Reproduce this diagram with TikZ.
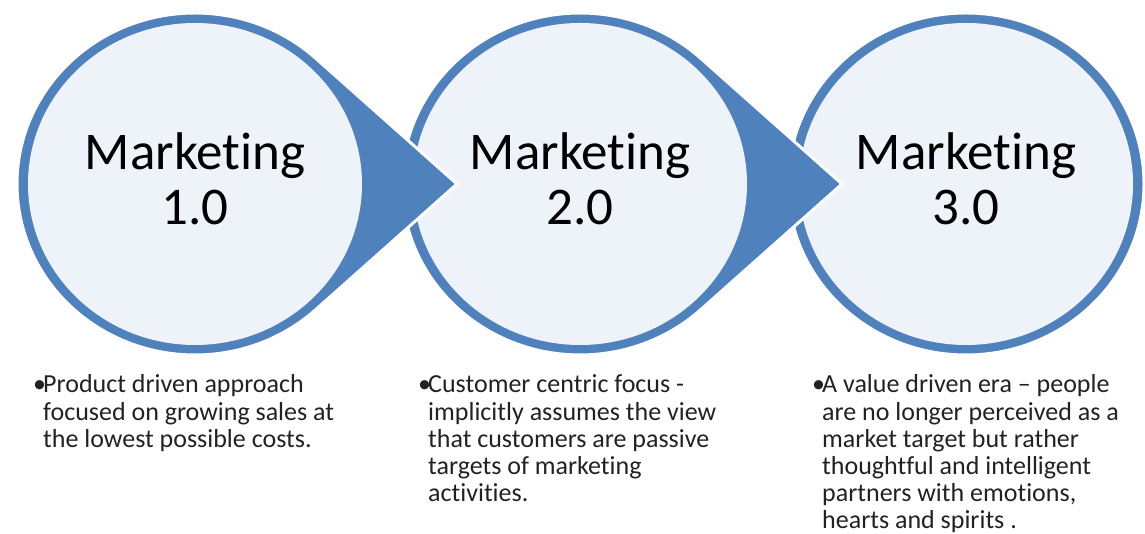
\documentclass[tikz,border=0pt]{standalone}
\usepackage{fontspec}
\setmainfont{Carlito}[Ligatures={NoCommon,NoContextual,NoRequired},Contextuals=NoAlternate]
\usetikzlibrary{calc}
\definecolor{ringblue}{HTML}{4F81BD}
\definecolor{innerfill}{HTML}{EEF3FA}
\definecolor{bodytext}{HTML}{222222}
\newcommand{\bultext}[1]{\makebox[10pt][l]{\textbullet}\parbox[t]{330pt}{#1}}
\begin{document}
\begin{tikzpicture}[x=1pt,y=1pt]
\useasboundingbox (0,0) rectangle (1145,534);
\tikzset{
 ringshape/.style={fill=ringblue, draw=white, line width=3pt, line join=miter},
 innershape/.style={fill=innerfill},
 titletext/.style={font=\fontsize{53}{55}\selectfont, text=black, inner sep=0pt, anchor=base},
 bodynode/.style={font=\fontsize{26}{27.2}\selectfont, text=bodytext, inner sep=0pt, anchor=base west},
}
\coordinate (c1) at (195,350);
\coordinate (c2) at (580,350);
\coordinate (c3) at (966,350);
\coordinate (tip1) at (457,350);
\coordinate (tip2) at (842,350);
% circle 3
\path[ringshape] (c3) ellipse [x radius=178, y radius=171];
\path[innershape] (c3) ellipse [x radius=167, y radius=161];
% circle 2 with arrow
\path[ringshape] ($(c2)+(47.5:178pt and 171pt)$) arc[start angle=47.5, end angle=312.5, x radius=178, y radius=171] -- (tip2) -- cycle;
\path[innershape] (c2) ellipse [x radius=167, y radius=161];
% circle 1 with arrow
\path[ringshape] ($(c1)+(47.5:178pt and 171pt)$) arc[start angle=47.5, end angle=312.5, x radius=178, y radius=171] -- (tip1) -- cycle;
\path[innershape] (c1) ellipse [x radius=167, y radius=161];
% titles
\node[titletext] (t1a) at (195,364) {Marketing};
\node[titletext] (t1b) at (195,309) {1.0};
\node[titletext] (t2a) at (580,364) {Marketing};
\node[titletext] (t2b) at (580,309) {2.0};
\node[titletext] (t3a) at (966,364) {Marketing};
\node[titletext] (t3b) at (966,309) {3.0};
% descriptions
\node[bodynode] (d1) at (33,141) {\bultext{Product driven approach\\focused on growing sales at\\the lowest possible costs.}};
\node[bodynode] (d2) at (418,141) {\bultext{Customer centric focus -\\implicitly assumes the view\\that customers are passive\\targets of marketing\\activities.}};
\node[bodynode] (d3) at (812,141) {\bultext{A value driven era -- people\\are no longer perceived as a\\market target but rather\\thoughtful and intelligent\\partners with emotions,\\hearts and spirits .}};
\end{tikzpicture}
\end{document}
